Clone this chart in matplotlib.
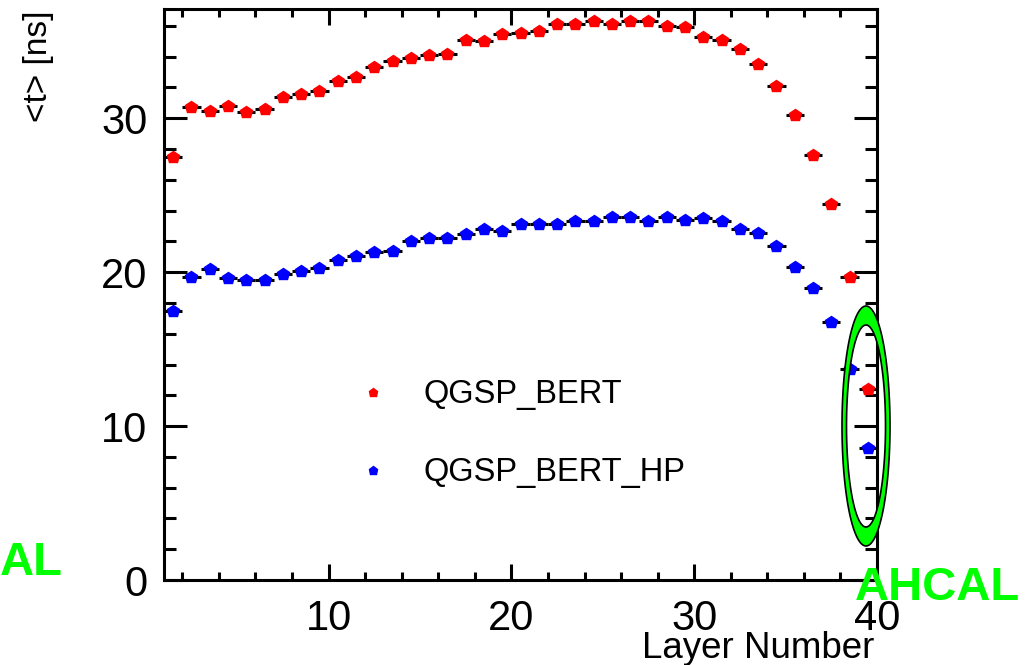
import numpy as np
import matplotlib
matplotlib.use("Agg")
from matplotlib import pyplot as plt
from matplotlib.path import Path
from matplotlib.patches import PathPatch

# layer numbers (bins are 1 unit wide, point at bin centre)
layers = list(range(1, 40))

t_bert = [27.5, 30.7, 30.5, 30.8, 30.4, 30.6, 31.35, 31.6, 31.8, 32.4,
          32.7, 33.3, 33.7, 33.9, 34.1, 34.2, 35.1, 35.0, 35.5, 35.55,
          35.7, 36.1, 36.1, 36.3, 36.1, 36.3, 36.3, 36.0, 35.9, 35.3,
          35.1, 34.5, 33.5, 32.1, 30.2, 27.6, 24.4, 19.7, 12.4]

t_bert_hp = [17.5, 19.7, 20.2, 19.6, 19.5, 19.5, 19.9, 20.1, 20.3, 20.8,
             21.05, 21.3, 21.4, 22.0, 22.2, 22.2, 22.45, 22.8, 22.65, 23.1,
             23.1, 23.1, 23.3, 23.3, 23.6, 23.6, 23.3, 23.6, 23.4, 23.5,
             23.3, 22.8, 22.55, 21.7, 20.35, 18.95, 16.75, 13.7, 8.6]

labels = ["QGSP_BERT", "QGSP_BERT_HP"]

plt.rcParams['font.family'] = ['Liberation Sans', 'DejaVu Sans']

fig = plt.figure(figsize=(10.3, 6.65), dpi=100)
ax = fig.add_axes([0.1592, 0.1278, 0.6923, 0.8587])

x = np.array(layers) + 0.5
for vals, col, lab in [(t_bert, '#ff0000', labels[0]), (t_bert_hp, '#0000ff', labels[1])]:
    ax.errorbar(x, vals, xerr=0.5, fmt='none', ecolor='black', elinewidth=2.2,
                capsize=0, zorder=3)
    ax.plot(x, vals, linestyle='none', marker='p', markersize=9, color=col,
            label=lab, zorder=4)

ax.set_xlim(1, 40)
ax.set_ylim(0, 37.1)
ax.set_xticks([10, 20, 30, 40])
ax.set_xticks(np.arange(2, 40, 2), minor=True)
ax.set_yticks([0, 10, 20, 30])
ax.set_yticks(np.arange(2, 37, 2), minor=True)

for sp in ax.spines.values():
    sp.set_linewidth(2.2)

ax.tick_params(axis='both', which='both', direction='in', width=2.2,
               top=True, right=True, labelsize=30)
ax.tick_params(axis='y', which='major', length=16.5, pad=12)
ax.tick_params(axis='y', which='minor', length=8.5)
ax.tick_params(axis='x', which='major', length=11.5, pad=14)
ax.tick_params(axis='x', which='minor', length=5.5)

ax.legend(loc='upper left', bbox_to_anchor=(0.2705, 0.352), frameon=False,
          fontsize=23.5, handlelength=1.0, handletextpad=1.05, labelspacing=1.45,
          borderpad=0, borderaxespad=0, markerscale=0.7)

fig.text(874 / 1030, 1 - 658 / 665, "Layer Number", fontsize=26.5,
         ha='right', va='baseline')
fig.text(38 / 1030, 1 - 10 / 665, "<t> [ns]", fontsize=24, rotation=90,
         ha='center', va='top')

# green ring around the last layer
def ellipse_pts(cx, cy, rx, ry, n=200, reverse=False):
    th = np.linspace(0, 2 * np.pi, n)
    if reverse:
        th = th[::-1]
    return np.column_stack([cx + rx * np.cos(th), cy + ry * np.sin(th)])

cx, cy = 866, 665 - 426
outer = ellipse_pts(cx, cy, 24, 120)
inner = ellipse_pts(cx, cy, 19.5, 101, reverse=True)
verts = np.vstack([outer, inner])
codes = ([Path.MOVETO] + [Path.LINETO] * (len(outer) - 2) + [Path.CLOSEPOLY]) * 2
ring = PathPatch(Path(verts, codes), facecolor='#00ff00', edgecolor='black',
                 linewidth=1.2, transform=None, zorder=2)
fig.patches.append(ring)

fig.text(0, 1 - 575 / 665, "AL", fontsize=34, fontweight='bold',
         color='#00ff00', ha='left', va='baseline')
fig.text(855 / 1030, 1 - 600 / 665, "AHCAL", fontsize=34, fontweight='bold',
         color='#00ff00', ha='left', va='baseline')

fig.savefig("out.png", dpi=100)
